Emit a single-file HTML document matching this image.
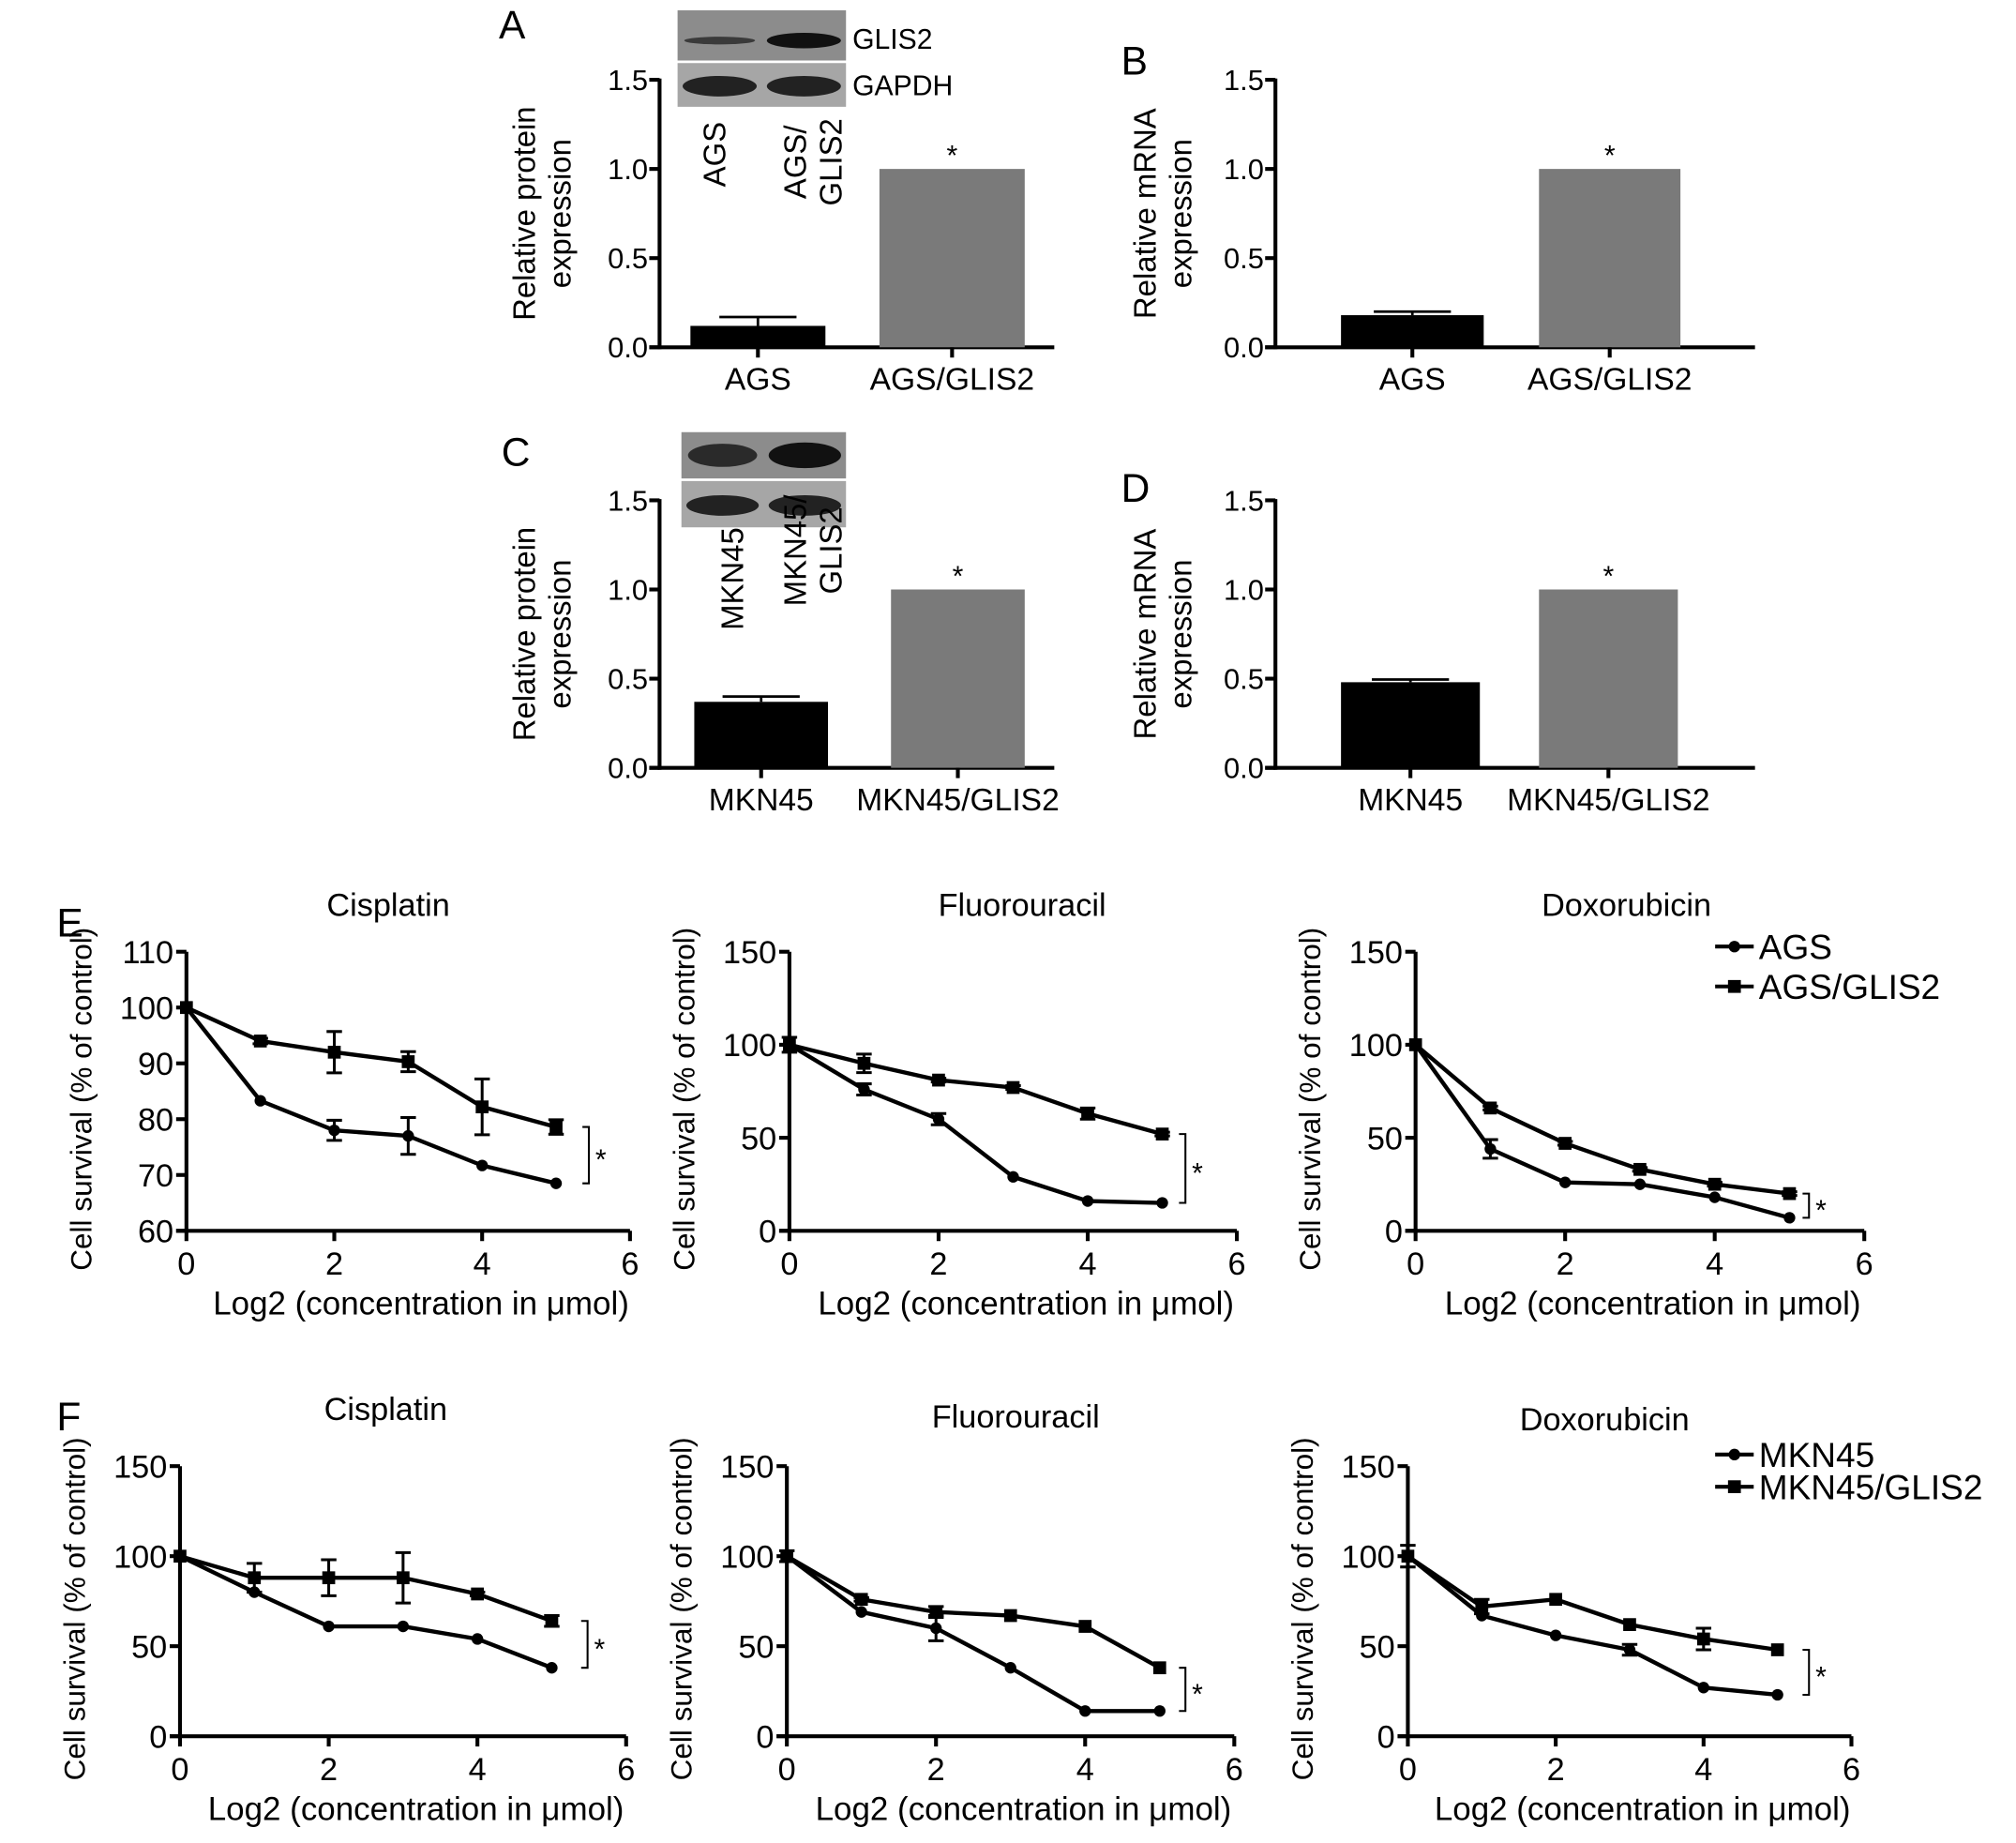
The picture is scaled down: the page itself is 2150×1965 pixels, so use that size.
<!DOCTYPE html>
<html><head><meta charset="utf-8"><style>
html,body{margin:0;padding:0;background:#fff;}
svg{display:block;font-family:"Liberation Sans",Arial,sans-serif;}
</style></head><body>
<svg id="fig" width="2150" height="1965" viewBox="0 0 1568 1433" xmlns="http://www.w3.org/2000/svg">
<rect x="0" y="0" width="1568" height="1433" fill="#fff"/>
<g id="root"></g>
</svg>
<script>
// ---- Bar panel data ----
const barPanelNames = ["A","B","C","D"];
const barCatsA = ["AGS","AGS/GLIS2"];
const barCatsC = ["MKN45","MKN45/GLIS2"];
const barValsA = [0.12, 1.0];
const barErrA = [0.05, 0];
const barValsB = [0.18, 1.0];
const barErrB = [0.02, 0];
const barValsC = [0.37, 1.0];
const barErrC = [0.03, 0];
const barValsD = [0.48, 1.0];
const barErrD = [0.015, 0];
const barTicks = [0, 0.5, 1.0, 1.5];
const barTickLabels = ["0.0","0.5","1.0","1.5"];

// ---- Line panel data ----
const xVals = [0,1,2,3,4,5];
const xTicks = [0,2,4,6];
const eCisAGS = [100,83.3,78,77,71.7,68.5];
const eCisAGSerr = [0,0,1.8,3.3,0,0];
const eCisGL = [100,94,92,90.3,82.2,78.6];
const eCisGLerr = [0,0.5,3.7,1.8,5,1.3];
const eFluAGS = [100,76,60,29,16,15];
const eFluAGSerr = [0,3,3,0,0,0];
const eFluGL = [100,90,81,77,63,52];
const eFluGLerr = [4,5,1,1,3,1];
const eDoxAGS = [100,44,26,25,18,7];
const eDoxAGSerr = [0,5,0,0,0,0];
const eDoxGL = [100,66,47,33,25,20];
const eDoxGLerr = [0,1,1,1,1,1];
const fCisAGS = [100,80,61,61,54,38];
const fCisAGSerr = [0,0,0,0,0,0];
const fCisGL = [100,88,88,88,79,64];
const fCisGLerr = [0,8,10,14,1,3];
const fFluAGS = [100,69,60,38,14,14];
const fFluAGSerr = [0,0,7,0,0,0];
const fFluGL = [100,76,69,67,61,38];
const fFluGLerr = [3,1,3,0,0,0];
const fDoxAGS = [100,67,56,48,27,23];
const fDoxAGSerr = [0,0,0,3,0,0];
const fDoxGL = [100,72,76,62,54,48];
const fDoxGLerr = [6,4,0,0,6,0];
const yTicksCis = [60,70,80,90,100,110];
const yTicks150 = [0,50,100,150];

const NS="http://www.w3.org/2000/svg";
const root=document.getElementById('root');
function mk(tag,attrs,parent,text){const e=document.createElementNS(NS,tag);for(const k in attrs)e.setAttribute(k,attrs[k]);if(text!==undefined)e.textContent=text;(parent||root).appendChild(e);return e;}

function letter(t,x,y){const e=mk('text',{x:x,y:y,'font-size':31},root,t);

}

function rotText(lines,x,cy,size,name){
  const g=mk('g',{});
  
  
  lines.forEach((l,i)=>{mk('text',{x:0,y:0,'font-size':size,'text-anchor':'middle',transform:`translate(${x+i*size*1.15},${cy}) rotate(-90)`},g,l);});
}

function barPanel(o){
  const g=mk('g',{});
  
  
  const y=v=>o.y0+(o.y1-o.y0)*(v/1.5);
  mk('line',{x1:o.ax,y1:o.y1-1,x2:o.ax,y2:o.y0+1.5,stroke:'#000','stroke-width':3},g);
  mk('line',{x1:o.ax-8,y1:o.y0,x2:o.xend,y2:o.y0,stroke:'#000','stroke-width':3},g);
  barTicks.forEach((t,i)=>{
    mk('line',{x1:o.ax-8,y1:y(t),x2:o.ax,y2:y(t),stroke:'#000','stroke-width':3},g);
    const tl=mk('text',{x:o.ax-9,y:y(t)+8,'font-size':22.5,'text-anchor':'end'},g,barTickLabels[i]);
    
    
  });
  o.vals.forEach((v,i)=>{
    const [bx0,bx1]=o.bars[i];
    const r=mk('rect',{x:bx0,y:y(v),width:bx1-bx0,height:o.y0-y(v),fill:i===0?'#000':'#7a7a7a'},g);
    
    
    const cx=(bx0+bx1)/2;
    if(o.err[i]>0){
      mk('line',{x1:cx,y1:y(v),x2:cx,y2:y(v+o.err[i]),stroke:'#000','stroke-width':2},g);
      mk('line',{x1:cx-30,y1:y(v+o.err[i]),x2:cx+30,y2:y(v+o.err[i]),stroke:'#000','stroke-width':2},g);
    }
    mk('line',{x1:cx,y1:o.y0,x2:cx,y2:o.y0+8,stroke:'#000','stroke-width':3},g);
    const lb=mk('text',{x:cx,y:o.y0+33,'font-size':24.5,'text-anchor':'middle'},g,o.cats[i]);
    
    
  });
  const cx2=(o.bars[1][0]+o.bars[1][1])/2;
  mk('text',{x:cx2,y:y(o.vals[1])-3,'font-size':22,'text-anchor':'middle'},g,'*');
  rotText(o.title,o.tx,(o.y0+o.y1)/2,24,'y-axis-title');
}

function blot(x0,y0,x1,y1,mid,strong){
  const g=mk('g',{});
  
  
  mk('rect',{x:x0,y:y0,width:x1-x0,height:mid-y0,fill:'#8c8c8c'},g);
  mk('rect',{x:x0,y:mid+2,width:x1-x0,height:y1-mid-2,fill:'#a6a6a6'},g);
  const w=(x1-x0)/2;
  const b1=(mid+y0)/2+(strong?4:0);
  mk('ellipse',{cx:x0+w*0.5,cy:b1,rx:w*0.42,ry:strong?3:9,fill:strong?'#3a3a3a':'#2a2a2a'},g);
  mk('ellipse',{cx:x0+w*1.5,cy:b1,rx:w*0.44,ry:strong?6:10,fill:'#111'},g);
  const b2=(mid+y1)/2+2;
  mk('ellipse',{cx:x0+w*0.5,cy:b2,rx:w*0.44,ry:8,fill:'#222'},g);
  mk('ellipse',{cx:x0+w*1.5,cy:b2,rx:w*0.44,ry:8,fill:'#222'},g);
}

// Bar panels
barPanel({id:'A',ax:513,y0:270,y1:62,xend:820,bars:[[537,642],[684,797]],vals:barValsA,err:barErrA,cats:barCatsA,title:['Relative protein','expression'],tx:416});
barPanel({id:'B',ax:992,y0:270,y1:62,xend:1365,bars:[[1043,1154],[1197,1307]],vals:barValsB,err:barErrB,cats:barCatsA,title:['Relative mRNA','expression'],tx:899});
barPanel({id:'C',ax:513,y0:597,y1:389,xend:820,bars:[[540,644],[693,797]],vals:barValsC,err:barErrC,cats:barCatsC,title:['Relative protein','expression'],tx:416});
barPanel({id:'D',ax:992,y0:597,y1:389,xend:1365,bars:[[1043,1151],[1197,1305]],vals:barValsD,err:barErrD,cats:barCatsC,title:['Relative mRNA','expression'],tx:899});
blot(527,8,658,83,47,true);
mk('text',{x:663,y:38,'font-size':22},root,'GLIS2');
mk('text',{x:663,y:74,'font-size':22},root,'GAPDH');
rotText(['AGS'],564,120,24,'blot-lane-label');
rotText(['AGS/','GLIS2'],627,126,24,'blot-lane-label');
blot(530,336,658,410,372,false);
rotText(['MKN45'],578,450,24,'blot-lane-label');
rotText(['MKN45/','GLIS2'],627,428,24,'blot-lane-label');
letter('A',388,30);letter('B',872,58);letter('C',390,362);letter('D',872,390);letter('E',44,728);letter('F',44,1112);

function linePanel(o){
  const g=mk('g',{});
  
  
  const ymin=o.yt[0],ymax=o.yt[o.yt.length-1];
  const X=v=>o.ax+(o.xe-o.ax)*v/6;
  const Y=v=>o.y0+(o.y1-o.y0)*(v-ymin)/(ymax-ymin);
  mk('line',{x1:o.ax,y1:o.y1,x2:o.ax,y2:o.y0+1.5,stroke:'#000','stroke-width':3},g);
  mk('line',{x1:o.ax-8,y1:o.y0,x2:o.xe,y2:o.y0,stroke:'#000','stroke-width':3},g);
  o.yt.forEach(t=>{
    mk('line',{x1:o.ax-8,y1:Y(t),x2:o.ax,y2:Y(t),stroke:'#000','stroke-width':3},g);
    const tl=mk('text',{x:o.ax-10,y:Y(t)+9,'font-size':25,'text-anchor':'end'},g,String(t));
    
    
  });
  xTicks.forEach(t=>{
    mk('line',{x1:X(t),y1:o.y0,x2:X(t),y2:o.y0+8,stroke:'#000','stroke-width':3},g);
    const tl=mk('text',{x:X(t),y:o.y0+34,'font-size':25,'text-anchor':'middle'},g,String(t));
    
    
  });
  const xt=mk('text',{x:(o.ax+o.xe)/2+10,y:o.y0+65,'font-size':25.5,'text-anchor':'middle'},g,'Log2 (concentration in \u03bcmol)');
  
  
  const tt=mk('text',{x:o.tcx,y:o.ty,'font-size':25,'text-anchor':'middle'},g,o.title);
  
  
  rotText(['Cell survival (% of control)'],o.ax-74,(o.y0+o.y1)/2+6,23,'y-axis-title');
  [[o.s1,o.e1,'circle','series-parental'],[o.s2,o.e2,'square','series-glis2']].forEach(([s,e,m,nm])=>{
    const sg=mk('g',{},g);
    
    
    mk('polyline',{points:s.map((v,i)=>X(xVals[i])+','+Y(v)).join(' '),fill:'none',stroke:'#000','stroke-width':3.2,'stroke-linejoin':'round'},sg);
    s.forEach((v,i)=>{
      const cx=X(xVals[i]),cy=Y(v);
      if(e[i]>0){
        mk('line',{x1:cx,y1:Y(v-e[i]),x2:cx,y2:Y(v+e[i]),stroke:'#000','stroke-width':2.2},sg);
        mk('line',{x1:cx-6,y1:Y(v+e[i]),x2:cx+6,y2:Y(v+e[i]),stroke:'#000','stroke-width':2.2},sg);
        mk('line',{x1:cx-6,y1:Y(v-e[i]),x2:cx+6,y2:Y(v-e[i]),stroke:'#000','stroke-width':2.2},sg);
      }
      const mark = m==='circle'?mk('circle',{cx:cx,cy:cy,r:4.5,fill:'#000'},sg):mk('rect',{x:cx-5,y:cy-5,width:10,height:10,fill:'#000'},sg);
      
      
    });
  });
  const hi=Y(o.s2[5]),lo=Y(o.s1[5]);
  mk('polyline',{points:`${o.bx-5},${hi} ${o.bx},${hi} ${o.bx},${lo} ${o.bx-5},${lo}`,fill:'none',stroke:'#000','stroke-width':1.5},g);
  mk('text',{x:o.bx+5,y:(hi+lo)/2+11,'font-size':22},g,'*');
}

linePanel({name:'e-cisplatin',ax:145,xe:490,y0:957,y1:740,yt:yTicksCis,title:'Cisplatin',tcx:302,ty:712,s1:eCisAGS,e1:eCisAGSerr,s2:eCisGL,e2:eCisGLerr,bx:458});
linePanel({name:'e-fluorouracil',ax:614,xe:962,y0:957,y1:740,yt:yTicks150,title:'Fluorouracil',tcx:795,ty:712,s1:eFluAGS,e1:eFluAGSerr,s2:eFluGL,e2:eFluGLerr,bx:922});
linePanel({name:'e-doxorubicin',ax:1101,xe:1450,y0:957,y1:740,yt:yTicks150,title:'Doxorubicin',tcx:1265,ty:712,s1:eDoxAGS,e1:eDoxAGSerr,s2:eDoxGL,e2:eDoxGLerr,bx:1407});
linePanel({name:'f-cisplatin',ax:140,xe:487,y0:1350,y1:1140,yt:yTicks150,title:'Cisplatin',tcx:300,ty:1104,s1:fCisAGS,e1:fCisAGSerr,s2:fCisGL,e2:fCisGLerr,bx:457});
linePanel({name:'f-fluorouracil',ax:612,xe:960,y0:1350,y1:1140,yt:yTicks150,title:'Fluorouracil',tcx:790,ty:1110,s1:fFluAGS,e1:fFluAGSerr,s2:fFluGL,e2:fFluGLerr,bx:922});
linePanel({name:'f-doxorubicin',ax:1095,xe:1440,y0:1350,y1:1140,yt:yTicks150,title:'Doxorubicin',tcx:1248,ty:1112,s1:fDoxAGS,e1:fDoxAGSerr,s2:fDoxGL,e2:fDoxGLerr,bx:1407});

function legend(x,y,labels,size,gap){
  const g=mk('g',{});
  
  
  labels.forEach((l,i)=>{
    const yy=y+i*gap;
    const e=mk('g',{},g);
    
    
    mk('line',{x1:x,y1:yy,x2:x+30,y2:yy,stroke:'#000','stroke-width':3},e);
    if(i===0) mk('circle',{cx:x+15,cy:yy,r:4.5,fill:'#000'},e); else mk('rect',{x:x+10,y:yy-5,width:10,height:10,fill:'#000'},e);
    mk('text',{x:x+34,y:yy+size*0.36,'font-size':size},e,l);
  });
}
legend(1334,736,['AGS','AGS/GLIS2'],27,31);
legend(1334,1131,['MKN45','MKN45/GLIS2'],27,25);
</script>
</body></html>
